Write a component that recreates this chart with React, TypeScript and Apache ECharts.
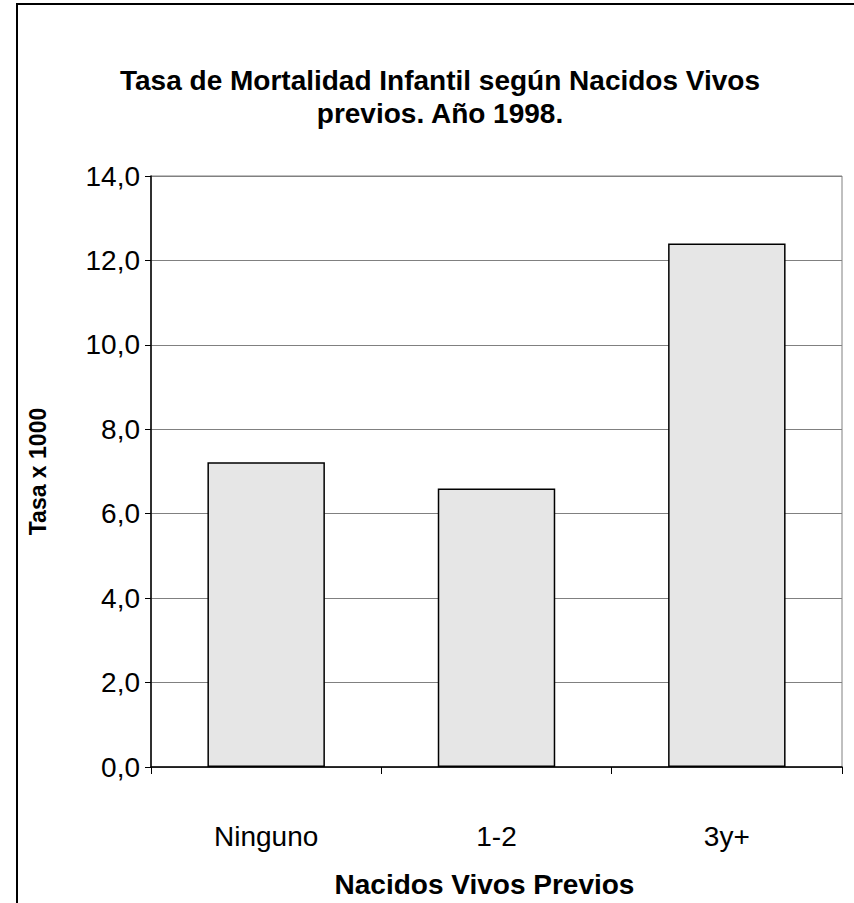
import React, { useEffect, useRef } from "react";
import * as echarts from "echarts";

const categories = ["Ninguno", "1-2", "3y+"];
const values = [7.22, 6.6, 12.4];
const titleLines = ["Tasa de Mortalidad Infantil según Nacidos Vivos", "previos. Año 1998."];
const xName = "Nacidos Vivos Previos";
const yName = "Tasa x 1000";

export default function App() {
  const ref = useRef<HTMLDivElement>(null);
  useEffect(() => {
    if (!ref.current) return;
    const chart = echarts.init(ref.current, null, { renderer: "svg" });
    const font = "'Liberation Sans', Arial, sans-serif";
    chart.setOption({
      animation: false,
      backgroundColor: "#ffffff",
      title: {
        text: titleLines.join("\n"),
        left: 440,
        top: 64,
        padding: 0,
        textAlign: "center",
        textStyle: {
          fontFamily: font,
          fontWeight: "bold",
          fontSize: 28,
          lineHeight: 33,
          color: "#000",
          align: "center",
        },
      },
      graphic: [
        {
          type: "rect",
          shape: { x: 17, y: 4, width: 900, height: 1000 },
          style: { fill: "none", stroke: "#000", lineWidth: 2 },
          silent: true,
        },
      ],
      grid: {
        left: 151,
        top: 176,
        width: 691,
        height: 593,
        show: true,
        borderColor: "#808080",
        borderWidth: 1,
        backgroundColor: "transparent",
      },
      xAxis: {
        type: "category",
        data: categories,
        name: xName,
        nameLocation: "middle",
        nameGap: 103,
        nameTextStyle: {
          fontFamily: font,
          fontWeight: "bold",
          fontSize: 28,
          color: "#000",
          padding: [0, 24, 0, 0],
        },
        axisLine: { lineStyle: { color: "#000", width: 1.5 } },
        axisTick: { show: true, length: 7, lineStyle: { color: "#000" } },
        axisLabel: { margin: 55, fontFamily: font, fontSize: 28, color: "#000" },
        splitLine: { show: false },
      },
      yAxis: {
        type: "value",
        min: 0,
        max: 14,
        interval: 2,
        name: yName,
        nameLocation: "middle",
        nameGap: 102,
        nameRotate: 90,
        nameTextStyle: { fontFamily: font, fontWeight: "bold", fontSize: 23, color: "#000" },
        axisLine: { show: true, lineStyle: { color: "#000", width: 1.5 } },
        axisTick: { show: true, length: 6, lineStyle: { color: "#000" } },
        axisLabel: {
          margin: 11,
          fontFamily: font,
          fontSize: 28,
          color: "#000",
          formatter: (v: number) => v.toFixed(1).replace(".", ","),
        },
        splitLine: { show: true, lineStyle: { color: "#808080", width: 1 } },
      },
      series: [
        {
          type: "bar",
          data: values,
          barCategoryGap: "49%",
          itemStyle: { color: "#e6e6e6", borderColor: "#000", borderWidth: 1.5 },
        },
      ],
    });
    return () => chart.dispose();
  }, []);
  return (
    <div
      ref={ref}
      style={{ position: "fixed", left: 0, top: 0, width: 854, height: 903 }}
    />
  );
}
